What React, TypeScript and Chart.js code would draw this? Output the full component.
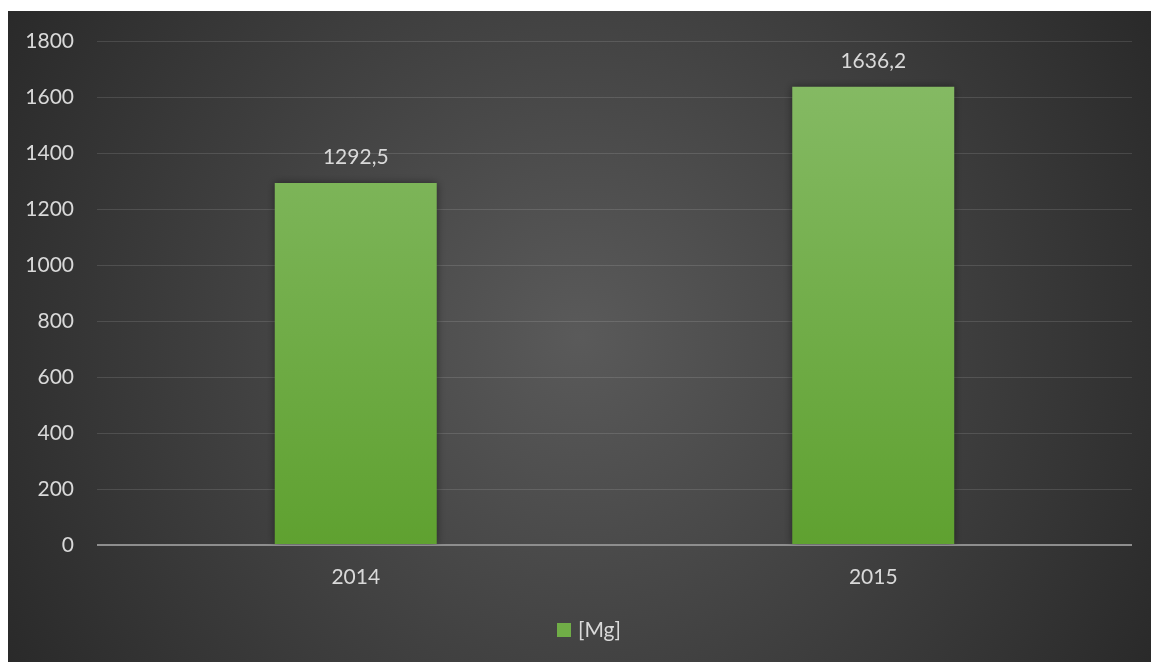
import React, { useEffect, useRef } from "react";
import { Chart, registerables } from "chart.js";

Chart.register(...registerables);

const categories = ["2014", "2015"];
const seriesLabel = "[Mg]";
const values = [1292.5, 1636.2];
const valueLabels = ["1292,5", "1636,2"];
const yTicks = [0, 200, 400, 600, 800, 1000, 1200, 1400, 1600, 1800];

const FONT = "Lato, 'Open Sans', sans-serif";
const TEXT = "#d9d9d9";
const LEGEND_GREEN = "#70ad47";

const bgPlugin = {
  id: "bgPlugin",
  beforeDraw(chart: any) {
    const { ctx, width, height } = chart;
    ctx.save();
    const g = ctx.createRadialGradient(width / 2, height / 2, 0, width / 2, height / 2, Math.max(width, height) * 0.62);
    g.addColorStop(0, "#5a5a5a");
    g.addColorStop(1, "#262626");
    ctx.fillStyle = g;
    ctx.fillRect(0, 0, width, height);
    ctx.restore();
  },
  beforeDatasetsDraw(chart: any) {
    const ctx = chart.ctx;
    ctx.save();
    ctx.shadowColor = "rgba(0,0,0,0.45)";
    ctx.shadowBlur = 8;
    ctx.shadowOffsetX = 0;
    ctx.shadowOffsetY = 0;
  },
  afterDatasetsDraw(chart: any) {
    const ctx = chart.ctx;
    ctx.restore();
    const meta = chart.getDatasetMeta(0);
    ctx.save();
    ctx.fillStyle = TEXT;
    ctx.font = `21px ${FONT}`;
    ctx.textAlign = "center";
    ctx.textBaseline = "middle";
    meta.data.forEach((bar: any, i: number) => {
      ctx.fillText(valueLabels[i], bar.x, bar.y - 26);
    });
    // legend
    const cy = 619;
    ctx.fillStyle = LEGEND_GREEN;
    ctx.fillRect(549, cy - 7, 14, 14);
    ctx.fillStyle = TEXT;
    ctx.textAlign = "left";
    ctx.fillText(seriesLabel, 570, cy);
    ctx.restore();
  },
};

export default function App() {
  const ref = useRef<HTMLCanvasElement>(null);
  useEffect(() => {
    document.documentElement.style.overflow = "hidden";
    document.body.style.overflow = "hidden";
    const canvas = ref.current!;
    const chart = new Chart(canvas, {
      type: "bar",
      data: {
        labels: categories,
        datasets: [
          {
            label: seriesLabel,
            data: values,
            backgroundColor: (c: any) => {
              const area = c.chart.chartArea;
              if (!area) return LEGEND_GREEN;
              const g = c.chart.ctx.createLinearGradient(0, area.top, 0, area.bottom);
              g.addColorStop(0, "#88bc68");
              g.addColorStop(1, "#5fa130");
              return g;
            },
            barPercentage: 0.313,
            categoryPercentage: 1,
          },
        ],
      },
      options: {
        animation: false,
        responsive: false,
        maintainAspectRatio: false,
        layout: { padding: { left: 0, right: 19, top: 30, bottom: 0 } },
        plugins: {
          tooltip: { enabled: false },
          legend: { display: false },
        },
        scales: {
          x: {
            grid: { display: false, drawTicks: false },
            border: { display: false },
            ticks: { color: TEXT, font: { family: FONT, size: 21 }, padding: 20 },
            afterFit: (s: any) => { s.height = 117; s.paddingLeft = 0; s.paddingRight = 0; },
          },
          y: {
            min: 0,
            max: 1800,
            afterBuildTicks: (s: any) => { s.ticks = yTicks.map((v) => ({ value: v })); },
            grid: {
              drawTicks: false,
              color: (c: any) => (c.tick && c.tick.value === 0 ? "#8e8e8e" : "rgba(255,255,255,0.12)"),
              lineWidth: (c: any) => (c.tick && c.tick.value === 0 ? 2 : 1),
            },
            border: { display: false },
            ticks: {
              color: TEXT,
              font: { family: FONT, size: 21 },
              padding: 23,
              callback: (v: any) => String(v),
            },
            afterFit: (s: any) => { s.width = 89; s.paddingTop = 0; s.paddingBottom = 0; },
          },
        },
      },
      plugins: [bgPlugin],
    } as any);
    return () => chart.destroy();
  }, []);
  return (
    <div style={{ position: "absolute", left: 8, top: 11, width: 1143, height: 651 }}>
      <canvas ref={ref} width={1143} height={651} style={{ display: "block" }} />
    </div>
  );
}
